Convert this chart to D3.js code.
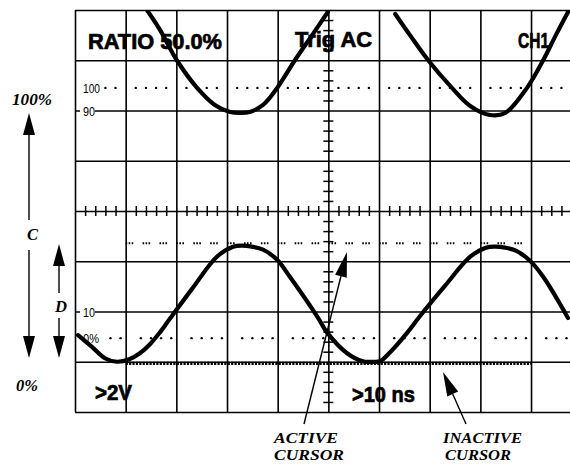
<!DOCTYPE html>
<html><head><meta charset="utf-8">
<script src="https://cdn.jsdelivr.net/npm/d3@7"></script>
<style>html,body{margin:0;padding:0;background:#fff}svg{display:block}</style>
</head><body>
<script>
// ---------------- data (in screen divisions) ----------------
const timeDivs = [0,1,2,3,4,5,6,7,8,9,10];
const voltDivs = [0,1,2,3,4,5,6,7,8];
// lower trace: [time div, volt div]
const lowerTrace = [
  [0.06,1.53],[0.34,1.29],[0.59,1.07],[0.83,1.00],[1.07,1.05],[1.28,1.17],
  [1.48,1.35],[1.68,1.59],[1.84,1.81],[2.31,2.45],[2.80,3.09],[3.12,3.29],[3.30,3.31],
  [3.49,3.29],[3.71,3.23],[3.99,3.03],[4.24,2.69],[4.80,1.87],[4.97,1.59],
  [5.37,1.17],[5.68,1.01],[5.86,1.00],[6.02,1.01],[6.22,1.19],[6.55,1.57],
  [6.81,1.91],[7.30,2.51],[7.80,3.09],[8.11,3.27],[8.29,3.29],[8.49,3.27],
  [8.70,3.21],[8.98,3.01],[9.24,2.69],[9.73,1.87]
];
// upper trace, two visible arcs
const upperTraceA = [
  [1.42,8.00],[1.68,7.60],[2.01,7.00],[2.41,6.45],[2.76,6.11],[3.06,5.97],
  [3.26,5.95],[3.45,5.97],[3.71,6.11],[3.99,6.45],[4.34,7.00],[4.68,7.50],[4.99,7.96]
];
const upperTraceB = [
  [6.32,7.92],[6.61,7.50],[6.97,7.00],[7.44,6.45],[7.80,6.09],[8.19,5.91],
  [8.49,5.95],[8.92,6.45],[9.24,7.00],[9.49,7.50],[9.73,7.96]
];
const refLabels = ["100","0%"];
const refLevels = [6.45, 1.47];
const gridLabels = ["90","10"];
const gridLabelLevels = [6, 2];
const activeCursorLevel = 3.36;
const inactiveCursorLevel = 1.0;
const cursorSpan = [1, 9];
const readouts = ["RATIO 50.0%", "Trig AC", "CH1", ">2V", ">10 ns"];
const sideLabels = ["100%", "C", "D", "0%"];
const pointerLabels = [["ACTIVE","CURSOR"],["INACTIVE","CURSOR"]];

// ---------------- drawing ----------------
const W = 570, H = 465;
const svg = d3.select("body").append("svg").attr("width", W).attr("height", H);
const x = d3.scaleLinear().domain([0,10]).range([75, 581.7]);
const y = d3.scaleLinear().domain([0,8]).range([412, 10]);
const INK = "#000";

svg.append("defs").append("clipPath").attr("id","scr").append("rect")
  .attr("x", x(0)).attr("y", y(8)).attr("width", x(10)-x(0)).attr("height", y(0)-y(8));

const screen = svg.append("g");

// major grid via axes
screen.append("g").attr("transform", `translate(0,${y(0)})`)
  .call(d3.axisBottom(x).tickValues(timeDivs).tickSize(-(y(0)-y(8))).tickFormat(""))
  .call(g => g.select(".domain").remove())
  .selectAll("line").attr("stroke", INK).attr("stroke-width", 1.6);
screen.append("g").attr("transform", `translate(${x(0)},0)`)
  .call(d3.axisLeft(y).tickValues(voltDivs).tickSize(-(x(10)-x(0))).tickFormat(""))
  .call(g => g.select(".domain").remove())
  .selectAll("line").attr("stroke", INK).attr("stroke-width", 1.6);

// minor ticks on the centre axes
const minorT = d3.range(1, 50).map(i => i/5).filter(v => Math.abs(v - Math.round(v)) > 1e-6);
const minorV = d3.range(1, 40).map(i => i/5).filter(v => Math.abs(v - Math.round(v)) > 1e-6);
[d3.axisBottom, d3.axisTop].forEach(ax => {
  screen.append("g").attr("transform", `translate(0,${y(4)})`)
    .call(ax(x).tickValues(minorT).tickSize(5).tickFormat(""))
    .call(g => g.select(".domain").remove())
    .selectAll("line").attr("stroke", INK).attr("stroke-width", 1.5);
});
[d3.axisLeft, d3.axisRight].forEach(ax => {
  screen.append("g").attr("transform", `translate(${x(5)},0)`)
    .call(ax(y).tickValues(minorV).tickSize(5).tickFormat(""))
    .call(g => g.select(".domain").remove())
    .selectAll("line").attr("stroke", INK).attr("stroke-width", 1.5);
});

// dotted reference lines
const dotFrac = [[0.2,0.4,0.6,0.8],[0.3,0.5,0.7,0.9]];
refLevels.forEach((lv, k) => {
  const pts = [];
  for (let i = 0; i < 10; i++) dotFrac[k].forEach(f => { if (i + f > 0.5) pts.push(i + f); });
  screen.append("g").selectAll("circle").data(pts).join("circle")
    .attr("cx", d => x(d)).attr("cy", y(lv)).attr("r", 1.2).attr("fill", INK);
});

// active cursor (triple-dot dashes)
screen.append("line")
  .attr("x1", x(cursorSpan[0])).attr("x2", x(cursorSpan[1]))
  .attr("y1", y(activeCursorLevel)).attr("y2", y(activeCursorLevel))
  .attr("stroke", INK).attr("stroke-width", 2)
  .attr("stroke-dasharray", "1.6,1.4,1.6,1.4,1.6,9.3");
// inactive cursor (toothed band)
screen.append("line")
  .attr("x1", x(cursorSpan[0])).attr("x2", x(cursorSpan[1]))
  .attr("y1", y(inactiveCursorLevel) + 1.6).attr("y2", y(inactiveCursorLevel) + 1.6)
  .attr("stroke", INK).attr("stroke-width", 3.2)
  .attr("stroke-dasharray", "2.2,1.2");

// small labels on the left edge of the graticule
function smallLabel(txt, lv, len) {
  screen.append("rect").attr("x", x(0) + 5).attr("y", y(lv) - 6)
    .attr("width", len + 3).attr("height", 12).attr("fill", "#fff");
  screen.append("text").attr("x", x(0) + 8).attr("y", y(lv) + 5)
    .attr("font-family", "Liberation Sans, Arial, sans-serif").attr("font-size", 13)
    .attr("textLength", len).attr("lengthAdjust", "spacingAndGlyphs")
    .attr("fill", INK).text(txt);
}
smallLabel(refLabels[0], refLevels[0], 17);
smallLabel(refLabels[1], refLevels[1], 16);
smallLabel(gridLabels[0], gridLabelLevels[0], 12);
smallLabel(gridLabels[1], gridLabelLevels[1], 12);

// traces
const line = d3.line().x(d => x(d[0])).y(d => y(d[1])).curve(d3.curveCatmullRom.alpha(0.5));
[lowerTrace, upperTraceA, upperTraceB].forEach(tr => {
  screen.append("path").attr("d", line(tr)).attr("fill", "none")
    .attr("stroke", INK).attr("stroke-width", 4.2).attr("stroke-linecap", "round")
    .attr("stroke-linejoin", "round").attr("clip-path", "url(#scr)");
});

// readouts
function readout(txt, px, py, len) {
  screen.append("text").attr("x", px).attr("y", py)
    .attr("font-family", "Liberation Sans, Arial, sans-serif").attr("font-weight", 700)
    .attr("font-size", 22).attr("textLength", len).attr("lengthAdjust", "spacingAndGlyphs")
    .attr("fill", INK).attr("stroke", INK).attr("stroke-width", 0.7).text(txt);
}
readout(readouts[0], 88, 49, 134);
readout(readouts[1], 295, 47, 77);
readout(readouts[2], 518, 48, 31);
readout(readouts[3], 95, 400, 37);
readout(readouts[4], 352, 402, 63);

// annotations
const ann = svg.append("g");
function arrow(x1, y1, x2, y2, hl, hw) {
  const dx = x2 - x1, dy = y2 - y1, L = Math.hypot(dx, dy);
  const ux = dx / L, uy = dy / L;
  const bx = x2 - ux * hl, by = y2 - uy * hl;
  ann.append("line").attr("x1", x1).attr("y1", y1).attr("x2", bx).attr("y2", by)
    .attr("stroke", INK).attr("stroke-width", 1.4);
  const px = -uy, py = ux;
  ann.append("path").attr("d",
    `M${x2},${y2}L${bx + px*hw/2},${by + py*hw/2}L${bx - px*hw/2},${by - py*hw/2}Z`)
    .attr("fill", INK);
}
function serifLabel(txt, px, py, size, len) {
  ann.append("text").attr("x", px).attr("y", py)
    .attr("font-family", "Liberation Serif, Times New Roman, serif")
    .attr("font-weight", 700).attr("font-style", "italic").attr("font-size", size)
    .attr("textLength", len).attr("lengthAdjust", "spacingAndGlyphs")
    .attr("fill", INK).text(txt);
}
// C arrow
arrow(29, 220, 29, 113, 22, 12);
arrow(29, 250, 29, 358, 22, 12);
// D arrow
arrow(59, 293, 59, 244, 22, 12);
arrow(59, 318, 59, 358, 22, 12);
serifLabel(sideLabels[0], 12, 105, 16, 40);
serifLabel(sideLabels[1], 27, 240, 16, 11);
serifLabel(sideLabels[2], 55, 312, 16, 12);
serifLabel(sideLabels[3], 16, 391, 16, 22);

// pointer arrows
arrow(304, 424, 347, 252, 25, 12);
arrow(466, 424, 443, 372, 24, 12);
serifLabel(pointerLabels[0][0], 274, 443, 14, 64);
serifLabel(pointerLabels[0][1], 274, 460, 14, 70);
serifLabel(pointerLabels[1][0], 443, 443, 14, 79);
serifLabel(pointerLabels[1][1], 445, 460, 14, 66);
</script>
</body></html>
